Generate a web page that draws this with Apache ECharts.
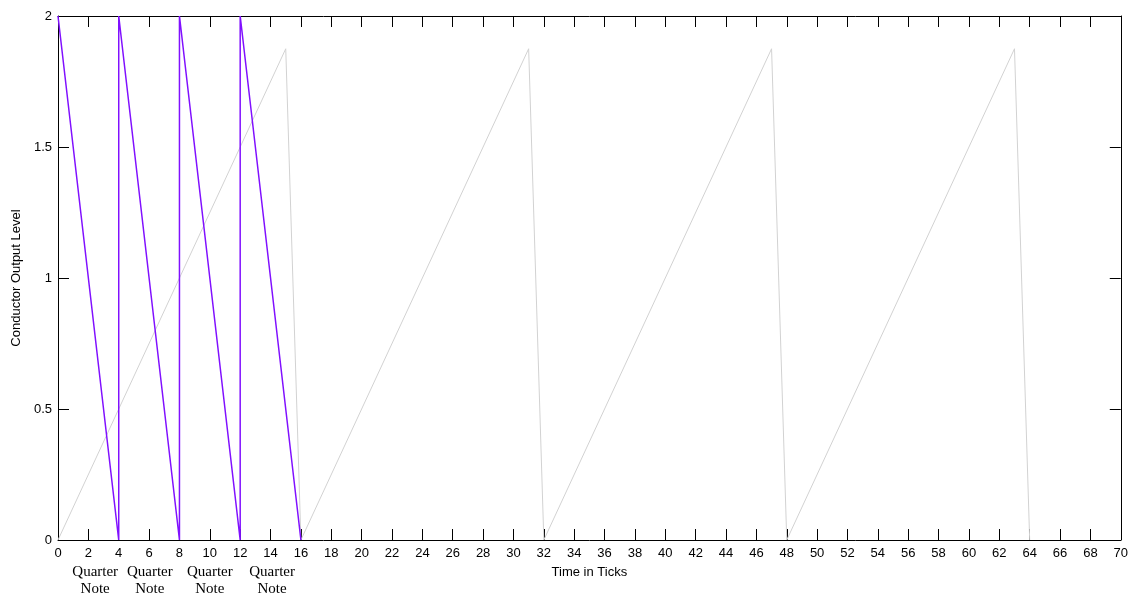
<!DOCTYPE html>
<html>
<head>
<meta charset="utf-8">
<script src="https://cdn.jsdelivr.net/npm/echarts@6/dist/echarts.min.js"></script>
<style>html,body{margin:0;padding:0;background:#fff}#c{width:1131px;height:598px}</style>
</head>
<body>
<div id="c"></div>
<script>
// Data
const conductorX = [0, 15, 16, 31, 32, 47, 48, 63, 64];
const conductorY = [0, 1.875, 0, 1.875, 0, 1.875, 0, 1.875, 0];
const quarterX = [0, 4, 4, 8, 8, 12, 12, 16];
const quarterY = [2, 0, 2, 0, 2, 0, 2, 0];
const noteLabelX = [2.45, 6.05, 10.0, 14.1];
const noteLabelText = ['Quarter', 'Quarter', 'Quarter', 'Quarter'];
const noteLabelText2 = ['Note', 'Note', 'Note', 'Note'];

const chart = echarts.init(document.getElementById('c'));
const font = 'Liberation Sans, Arial, sans-serif';
const axisLine = {show: true, onZero: false, lineStyle: {color: '#000', width: 1}};
const tick = {show: true, inside: true, length: 11, lineStyle: {color: '#000'}};
const grid = {left: 58, right: 10, top: 16, bottom: 58};

const option = {
  animation: false,
  backgroundColor: '#fff',
  grid: grid,
  xAxis: [{
    type: 'value', min: 0, max: 70, interval: 2, position: 'bottom',
    name: 'Time in Ticks', nameLocation: 'middle', nameGap: 26,
    nameTextStyle: {color: '#000', fontFamily: font, fontSize: 13},
    axisLine: axisLine, axisTick: tick,
    axisLabel: {color: '#000', fontFamily: font, fontSize: 13, margin: 7},
    splitLine: {show: false}
  }, {
    type: 'value', min: 0, max: 70, interval: 2, position: 'top',
    axisLine: axisLine, axisTick: tick,
    axisLabel: {show: false},
    splitLine: {show: false}
  }],
  yAxis: [{
    type: 'value', min: 0, max: 2, interval: 0.5, position: 'left',
    name: 'Conductor Output Level', nameLocation: 'middle', nameGap: 30, nameRotate: 90,
    nameTextStyle: {color: '#000', fontFamily: font, fontSize: 13},
    axisLine: axisLine, axisTick: tick,
    axisLabel: {color: '#000', fontFamily: font, fontSize: 13, margin: 6},
    splitLine: {show: false}
  }, {
    type: 'value', min: 0, max: 2, interval: 0.5, position: 'right',
    axisLine: axisLine, axisTick: tick,
    axisLabel: {show: false},
    splitLine: {show: false}
  }],
  series: [{
    type: 'line', name: 'Conductor',
    data: conductorX.map((x, i) => [x, conductorY[i]]),
    showSymbol: false, symbol: 'none',
    lineStyle: {color: '#d2d2d2', width: 1},
    z: 2
  }, {
    type: 'line', name: 'Quarter',
    data: quarterX.map((x, i) => [x, quarterY[i]]),
    showSymbol: false, symbol: 'none',
    lineStyle: {color: '#8010ff', width: 1.5},
    z: 3
  }]
};
chart.setOption(option);

const y0 = chart.convertToPixel({xAxisIndex: 0, yAxisIndex: 0}, [0, 0])[1];
const graphics = [];
noteLabelX.forEach((x, i) => {
  const px = chart.convertToPixel({xAxisIndex: 0, yAxisIndex: 0}, [x, 0])[0];
  graphics.push({type: 'text', x: px, y: y0 + 32, style: {text: noteLabelText[i], fill: '#000',
    font: '15px "Liberation Serif", "Times New Roman", serif', textAlign: 'center', textVerticalAlign: 'middle'}});
  graphics.push({type: 'text', x: px, y: y0 + 49, style: {text: noteLabelText2[i], fill: '#000',
    font: '15px "Liberation Serif", "Times New Roman", serif', textAlign: 'center', textVerticalAlign: 'middle'}});
});
chart.setOption({graphic: graphics});
</script>
</body>
</html>
